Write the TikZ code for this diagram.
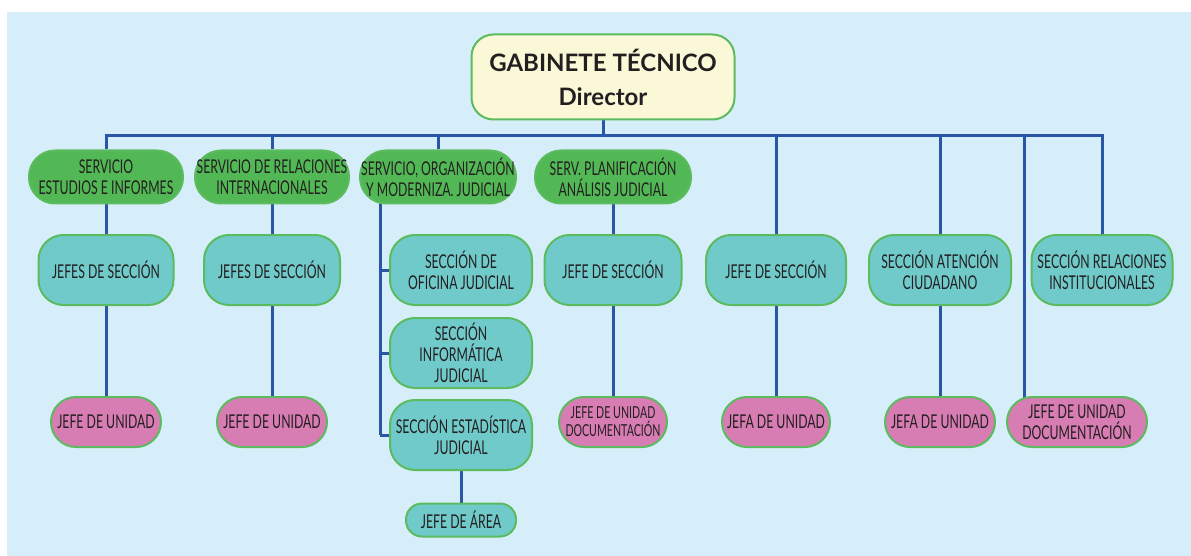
\documentclass[tikz,border=0pt]{standalone}
\usepackage{fontspec}
\usetikzlibrary{backgrounds}
\newfontfamily\boxfont{Lato}[FakeStretch=0.645]
\newfontfamily\titlefont{Lato}
\definecolor{bgblue}{HTML}{D6EEFA}
\definecolor{linkblue}{HTML}{2A56A8}
\definecolor{edgegreen}{HTML}{5CBB5E}
\definecolor{srvgreen}{HTML}{52B855}
\definecolor{secteal}{HTML}{70CACA}
\definecolor{unipink}{HTML}{D87DB3}
\definecolor{cream}{HTML}{FAF8D7}
\definecolor{inkdark}{HTML}{231F20}
\tikzset{
  box/.style={draw=edgegreen, line width=2pt, text=inkdark, align=center, inner sep=0pt,
    font=\boxfont\fontsize{19}{21}\selectfont},
  director/.style={box, fill=cream, minimum width=263, minimum height=85, rounded corners=22,
    font=\titlefont\bfseries\fontsize{24}{34}\selectfont},
  servicio/.style={box, fill=srvgreen, minimum width=154, minimum height=53, rounded corners=26},
  seccion/.style={box, fill=secteal, minimum width=138, minimum height=70, rounded corners=25},
  unidad/.style={box, fill=unipink, minimum width=110, minimum height=50, rounded corners=25},
  area/.style={box, fill=secteal, minimum width=110, minimum height=33, rounded corners=16},
  link/.style={draw=linkblue, line width=3pt},
}
\begin{document}
\begin{tikzpicture}[x=1pt,y=-1pt]
\useasboundingbox (0,0) rectangle (1191,556);

\draw (603,77) node[director] (dir) {GABINETE TÉCNICO\\Director};

\draw (106,177) node[servicio] (srv1) {SERVICIO\\ESTUDIOS E INFORMES};
\draw (272,177) node[servicio] (srv2) {SERVICIO DE RELACIONES\\INTERNACIONALES};
\draw (438,177) node[servicio,minimum width=156] (org) {SERVICIO, ORGANIZACIÓN\\Y MODERNIZA. JUDICIAL};
\draw (613,177) node[servicio,minimum width=156] (plan) {SERV. PLANIFICACIÓN\\ANÁLISIS JUDICIAL};

\draw (106,270) node[seccion,minimum width=135] (js1) {JEFES DE SECCIÓN};
\draw (272,270) node[seccion,minimum width=136] (js2) {JEFES DE SECCIÓN};
\draw (461,270) node[seccion,minimum width=142] (ofi) {SECCIÓN DE\\OFICINA JUDICIAL};
\draw (461,353) node[seccion,minimum width=142] (inf) {SECCIÓN\\INFORMÁTICA\\JUDICIAL};
\draw (461,435) node[seccion,minimum width=142] (est) {SECCIÓN ESTADÍSTICA\\JUDICIAL};
\draw (613,270) node[seccion,minimum width=137] (js4) {JEFE DE SECCIÓN};
\draw (776,270) node[seccion,minimum width=140] (js5) {JEFE DE SECCIÓN};
\draw (940,270) node[seccion,minimum width=142] (aten) {SECCIÓN ATENCIÓN\\CIUDADANO};
\draw (1102,270) node[seccion,minimum width=141] (rel) {SECCIÓN RELACIONES\\INSTITUCIONALES};

\draw (106,422) node[unidad] (ju1) {JEFE DE UNIDAD};
\draw (272,422) node[unidad] (ju2) {JEFE DE UNIDAD};
\draw (613,422) node[unidad,minimum width=108,font=\boxfont\fontsize{16.5}{18}\selectfont] (doc4) {JEFE DE UNIDAD\\DOCUMENTACIÓN};
\draw (776,422) node[unidad,minimum width=108] (ju5) {JEFA DE UNIDAD};
\draw (940,422) node[unidad] (ju6) {JEFA DE UNIDAD};
\draw (1077,422) node[unidad,minimum width=140] (doc7) {JEFE DE UNIDAD\\DOCUMENTACIÓN};
\draw (461,520) node[area] (jarea) {JEFE DE ÁREA};

\coordinate (busR) at (1102,136);
\coordinate (trunk) at (380,177);
\coordinate (drop) at (1024,136);

\begin{scope}[on background layer]
\fill[bgblue] (7,12) rectangle (1191,556);
\draw[link] (srv1) |- (busR) -- (rel);
\draw[link] (dir) -- (dir |- busR);
\draw[link] (srv2 |- busR) -- (srv2);
\draw[link] (org |- busR) -- (org);
\draw[link] (js5 |- busR) -- (js5);
\draw[link] (aten |- busR) -- (aten);
\draw[link] (drop) -- (drop |- doc7);
\draw[link] (srv1) -- (js1) -- (ju1);
\draw[link] (srv2) -- (js2) -- (ju2);
\draw[link] (plan) -- (js4) -- (doc4);
\draw[link] (js5) -- (ju5);
\draw[link] (aten) -- (ju6);
\draw[link] (trunk) -- (trunk |- est);
\draw[link] (trunk |- ofi) -- (ofi);
\draw[link] (trunk |- inf) -- (inf);
\draw[link] (trunk |- est) -- (est);
\draw[link] (est) -- (jarea);
\end{scope}

\end{tikzpicture}
\end{document}
